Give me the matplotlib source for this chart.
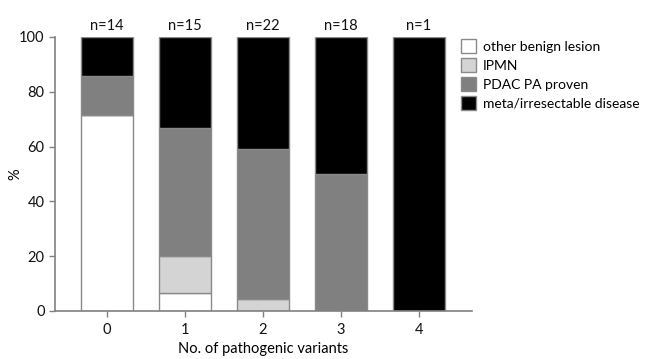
import matplotlib
matplotlib.use("Agg")
import matplotlib.pyplot as plt
from matplotlib.patches import Patch
import numpy as np

categories = ["0", "1", "2", "3", "4"]
n_labels = ["n=14", "n=15", "n=22", "n=18", "n=1"]
other_benign = [71.4, 6.7, 0.0, 0.0, 0.0]
ipmn = [0.0, 13.3, 4.5, 0.0, 0.0]
pdac = [14.3, 46.7, 54.6, 50.0, 0.0]
meta = [14.3, 33.3, 40.9, 50.0, 100.0]

series_names = ["other benign lesion", "IPMN", "PDAC PA proven", "meta/irresectable disease"]
colors = ["#ffffff", "#d4d4d4", "#808080", "#000000"]

plt.rcParams['font.family'] = ['Lato', 'DejaVu Sans']
FS = 10.5

fig = plt.figure(figsize=(6.5, 3.59), dpi=100)
ax = fig.add_axes([0.0846, 0.134, 0.641, 0.763])

x = np.arange(len(categories))
bottom = np.zeros(len(categories))
edge = "#8a8a8a"
for vals, col in zip([other_benign, ipmn, pdac, meta], colors):
    ax.bar(x, vals, width=0.667, bottom=bottom, color=col, edgecolor=edge, linewidth=1.0, zorder=2)
    bottom += np.array(vals)

for xi, lab in zip(x, n_labels):
    ax.text(xi, 101.5, lab, ha="center", va="bottom", fontsize=FS, color="#111111")

ax.set_xlim(-0.67, 4.68)
ax.set_ylim(0, 100)
ax.set_yticks([0, 20, 40, 60, 80, 100])
ax.set_xticks(x)
ax.set_xticklabels(categories)
ax.tick_params(axis="both", labelsize=FS, color="#808080", width=1, length=4, labelcolor="#111111")
ax.tick_params(axis="x", pad=5)
for s in ["top", "right"]:
    ax.spines[s].set_visible(False)
for s in ["left", "bottom"]:
    ax.spines[s].set_color("#808080")
    ax.spines[s].set_linewidth(1.2)

ax.set_ylabel("%", fontsize=FS, va="center")
ax.yaxis.set_label_coords(-0.095, 0.5)
ax.set_xlabel("No. of pathogenic variants", fontsize=FS, va="center")
ax.xaxis.set_label_coords(0.5, -0.14)

handles = [Patch(facecolor=c, edgecolor=edge, linewidth=1.0) for c in colors]
fig.legend(handles, series_names, loc="upper left", bbox_to_anchor=(0.69, 0.925),
           frameon=False, fontsize=10, handlelength=1.1, handleheight=1.1,
           handletextpad=0.5, labelspacing=0.4)

fig.savefig("out.png", dpi=100)
